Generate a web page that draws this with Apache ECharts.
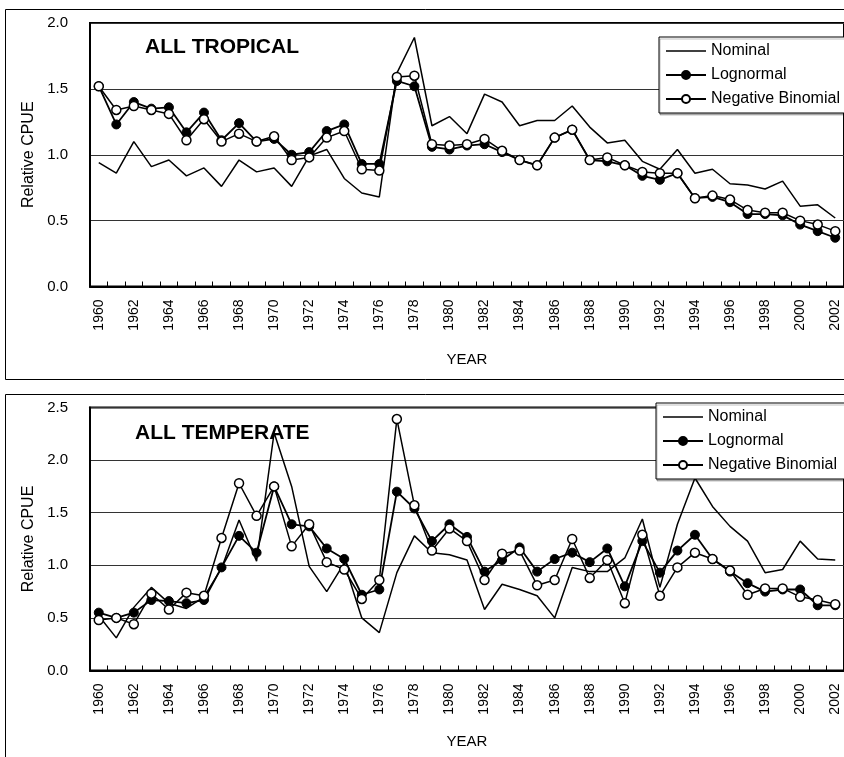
<!DOCTYPE html>
<html>
<head>
<meta charset="utf-8">
<script src="https://cdn.jsdelivr.net/npm/echarts@6/dist/echarts.min.js"></script>
<style>
html,body{margin:0;padding:0;background:#fff;}
#chart{width:844px;height:757px;}
</style>
</head>
<body>
<div id="chart"></div>
<script>
const years = [];
for (let y = 1960; y <= 2002; y++) years.push(String(y));

const seriesNames = ['Nominal', 'Lognormal', 'Negative Binomial'];

// ALL TROPICAL
const tropNominal = [0.94,0.86,1.10,0.91,0.96,0.84,0.90,0.76,0.96,0.87,0.90,0.76,0.99,1.04,0.82,0.71,0.68,1.62,1.89,1.22,1.29,1.16,1.46,1.40,1.22,1.26,1.26,1.37,1.21,1.09,1.11,0.95,0.89,1.04,0.86,0.89,0.78,0.77,0.74,0.80,0.61,0.62,0.52];
const tropLognormal = [1.52,1.23,1.40,1.35,1.36,1.17,1.32,1.11,1.24,1.10,1.12,1.00,1.02,1.18,1.23,0.93,0.93,1.56,1.52,1.06,1.04,1.07,1.08,1.02,0.96,0.92,1.13,1.19,0.96,0.95,0.92,0.84,0.81,0.86,0.67,0.68,0.64,0.55,0.55,0.54,0.47,0.42,0.37];
const tropNegBin = [1.52,1.34,1.37,1.34,1.31,1.11,1.27,1.10,1.16,1.10,1.14,0.96,0.98,1.13,1.18,0.89,0.88,1.59,1.60,1.08,1.07,1.08,1.12,1.03,0.96,0.92,1.13,1.19,0.96,0.98,0.92,0.87,0.86,0.86,0.67,0.69,0.66,0.58,0.56,0.56,0.50,0.47,0.42];

// ALL TEMPERATE
const tempNominal = [0.52,0.31,0.60,0.79,0.64,0.59,0.70,0.97,1.43,1.04,2.26,1.75,0.99,0.75,1.02,0.50,0.36,0.93,1.28,1.12,1.10,1.05,0.58,0.82,0.77,0.71,0.50,0.98,0.94,0.94,1.07,1.44,0.79,1.39,1.83,1.56,1.37,1.23,0.93,0.96,1.23,1.06,1.05];
const tempLognormal = [0.55,0.50,0.55,0.67,0.66,0.64,0.67,0.98,1.28,1.12,1.75,1.39,1.37,1.16,1.06,0.72,0.77,1.70,1.54,1.23,1.39,1.27,0.94,1.05,1.17,0.94,1.06,1.12,1.03,1.16,0.80,1.23,0.93,1.14,1.29,1.06,0.94,0.83,0.75,0.77,0.77,0.62,0.62];
const tempNegBin = [0.48,0.50,0.44,0.73,0.58,0.74,0.71,1.26,1.78,1.47,1.75,1.18,1.39,1.03,0.96,0.68,0.86,2.39,1.57,1.14,1.35,1.23,0.86,1.11,1.14,0.81,0.86,1.25,0.88,1.05,0.64,1.29,0.71,0.98,1.12,1.06,0.95,0.72,0.78,0.78,0.70,0.67,0.63];

const FONT = "'Liberation Sans', Arial, sans-serif";

function mkX(gi) {
  return {
    type: 'category', gridIndex: gi, data: years, boundaryGap: true,
    name: 'YEAR', nameLocation: 'middle', nameGap: gi === 0 ? 66 : 64,
    nameTextStyle: {fontFamily: FONT, fontSize: 15, color: '#000'},
    axisLine: {show: true, lineStyle: {color: '#000', width: 2}},
    axisTick: {show: true, inside: true, length: 5, interval: 0, lineStyle: {color: '#000', width: 1}},
    axisLabel: {interval: 1, rotate: 90, margin: 13, fontFamily: FONT, fontSize: 14, color: '#000'},
    splitLine: {show: false}
  };
}
function mkY(gi, max) {
  return {
    type: 'value', gridIndex: gi, min: 0, max: max, interval: 0.5,
    name: 'Relative CPUE', nameLocation: 'middle', nameGap: 50, nameRotate: 90,
    nameTextStyle: {fontFamily: FONT, fontSize: 16, color: '#000'},
    axisLine: {show: true, lineStyle: {color: '#000', width: 2}},
    axisTick: {show: false},
    axisLabel: {margin: 22, fontFamily: FONT, fontSize: 15, color: '#000', formatter: v => v.toFixed(1)},
    splitLine: {show: true, lineStyle: {color: '#333', width: 1}}
  };
}
function mkSeries(gi, nom, logn, nb) {
  return [
    {name: seriesNames[0], type: 'line', xAxisIndex: gi, yAxisIndex: gi, data: nom,
     symbol: 'none', lineStyle: {color: '#000', width: 1.5}, itemStyle: {color: '#000'}, z: 2, animation: false},
    {name: seriesNames[1], type: 'line', xAxisIndex: gi, yAxisIndex: gi, data: logn,
     symbol: 'circle', symbolSize: 9, lineStyle: {color: '#000', width: 1.8},
     itemStyle: {color: '#000', borderColor: '#000', borderWidth: 1}, z: 3, animation: false},
    {name: seriesNames[2], type: 'line', xAxisIndex: gi, yAxisIndex: gi, data: nb,
     symbol: 'circle', symbolSize: 9, lineStyle: {color: '#000', width: 1.5},
     itemStyle: {color: '#fff', borderColor: '#000', borderWidth: 1.5}, z: 4, animation: false}
  ];
}
function mkLegend(left, top) {
  return {
    data: [
      {name: seriesNames[0], icon: 'path://M0,0L0,0M0,4.3L40,4.3L40,5.7L0,5.7ZM40,10L40,10'},
      {name: seriesNames[1]},
      {name: seriesNames[2]}
    ],
    orient: 'vertical', left: left, top: top,
    itemWidth: 40, itemHeight: 10, itemGap: 8,
    padding: [6, 40, 6, 6],
    backgroundColor: '#fff', borderColor: '#000', borderWidth: 1,
    shadowColor: 'rgba(0,0,0,0.25)', shadowOffsetX: 1, shadowOffsetY: 2, shadowBlur: 0,
    textStyle: {fontFamily: FONT, fontSize: 16, color: '#000', padding: [0, 0, 0, 0]},
    selectedMode: false, z: 10
  };
}

const chart = echarts.init(document.getElementById('chart'), null, {renderer: 'canvas'});
chart.setOption({
  animation: false,
  backgroundColor: '#fff',
  title: [
    {text: 'ALL TROPICAL', left: 140, top: 32, textStyle: {fontFamily: FONT, fontSize: 21, fontWeight: 'bold', color: '#000'}},
    {text: 'ALL TEMPERATE', left: 130, top: 418, textStyle: {fontFamily: FONT, fontSize: 21, fontWeight: 'bold', color: '#000'}}
  ],
  legend: [mkLegend(659, 37), mkLegend(656, 403)],
  grid: [
    {left: 90, top: 23, width: 763, height: 263.5, show: true, borderColor: '#000', borderWidth: 2, backgroundColor: 'transparent'},
    {left: 90, top: 407.5, width: 763, height: 263, show: true, borderColor: '#000', borderWidth: 2, backgroundColor: 'transparent'}
  ],
  xAxis: [mkX(0), mkX(1)],
  yAxis: [mkY(0, 2.0), mkY(1, 2.5)],
  series: [].concat(mkSeries(0, tropNominal, tropLognormal, tropNegBin), mkSeries(1, tempNominal, tempLognormal, tempNegBin)),
  graphic: [
    {type: 'rect', shape: {x: 5.5, y: 9.5, width: 900, height: 370}, style: {fill: 'none', stroke: '#000', lineWidth: 1}, silent: true, z: -1},
    {type: 'rect', shape: {x: 5.5, y: 394.5, width: 900, height: 400}, style: {fill: 'none', stroke: '#000', lineWidth: 1}, silent: true, z: -1}
  ]
});
</script>
</body>
</html>
